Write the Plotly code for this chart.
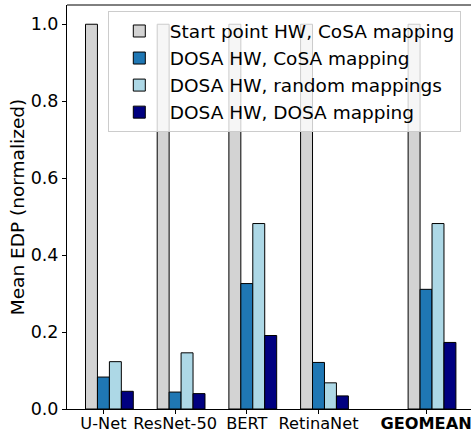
import plotly.graph_objects as go

categories = ["U-Net", "ResNet-50", "BERT", "RetinaNet", "GEOMEAN"]
start_cosa = [1.0, 1.0, 1.0, 1.0, 1.0]
dosa_cosa = [0.083, 0.044, 0.326, 0.121, 0.311]
dosa_random = [0.123, 0.146, 0.482, 0.068, 0.482]
dosa_dosa = [0.046, 0.040, 0.191, 0.034, 0.173]

series_names = [
    "Start point HW, CoSA mapping",
    "DOSA HW, CoSA mapping",
    "DOSA HW, random mappings",
    "DOSA HW, DOSA mapping",
]
series_values = [start_cosa, dosa_cosa, dosa_random, dosa_dosa]
colors = ["#d3d3d3", "#1f77b4", "#add8e6", "#000080"]

xpos = [0, 1, 2, 3, 4.5]
w = 1 / 6
offsets = [-1.5 * w, -0.5 * w, 0.5 * w, 1.5 * w]

fig = go.Figure()
for name, vals, col, off in zip(series_names, series_values, colors, offsets):
    fig.add_trace(go.Bar(
        x=xpos, y=vals, name=name, width=w, offset=off,
        marker=dict(color=col, line=dict(color="black", width=1)),
    ))

ticktext = [c if c != "GEOMEAN" else "<b>GEOMEAN</b>" for c in categories]

fig.update_layout(
    width=471, height=434,
    margin=dict(l=67, r=0, t=5, b=25, autoexpand=False),
    barmode="overlay",
    plot_bgcolor="white", paper_bgcolor="white",
    font=dict(family="DejaVu Sans", size=16, color="black"),
    showlegend=True,
    legend=dict(
        x=0.101, y=0.984, xanchor="left", yanchor="top",
        bgcolor="rgba(255,255,255,0.8)", bordercolor="#cccccc", borderwidth=1,
        font=dict(size=18.5), traceorder="normal", itemwidth=51,
    ),
    xaxis=dict(
        range=[-0.508, 5.127], tickvals=xpos, ticktext=ticktext,
        showline=True, linecolor="black", linewidth=1,
        ticks="outside", ticklen=4, tickcolor="black", automargin=False,
        ticklabelstandoff=-4, ticklabeloverflow="allow",
        showgrid=False, zeroline=False, tickfont=dict(size=16.2),
    ),
    yaxis=dict(
        range=[0, 1.05], tickvals=[0, 0.2, 0.4, 0.6, 0.8, 1.0], tickformat=".1f",
        showline=True, linecolor="black", linewidth=1,
        ticks="outside", ticklen=4, tickcolor="black", automargin=False,
        showgrid=False, zeroline=False, tickfont=dict(size=17.5),
        title=dict(text="Mean EDP (normalized)", font=dict(size=18.5), standoff=1),
    ),
    shapes=[dict(type="line", xref="paper", yref="paper", x0=0, x1=1, y0=1, y1=1,
                 line=dict(color="black", width=1))],
)

fig.write_html(
    "out.html",
    config={"displayModeBar": False},
    post_script="document.body.style.margin='0';document.body.style.overflow='hidden';",
)
